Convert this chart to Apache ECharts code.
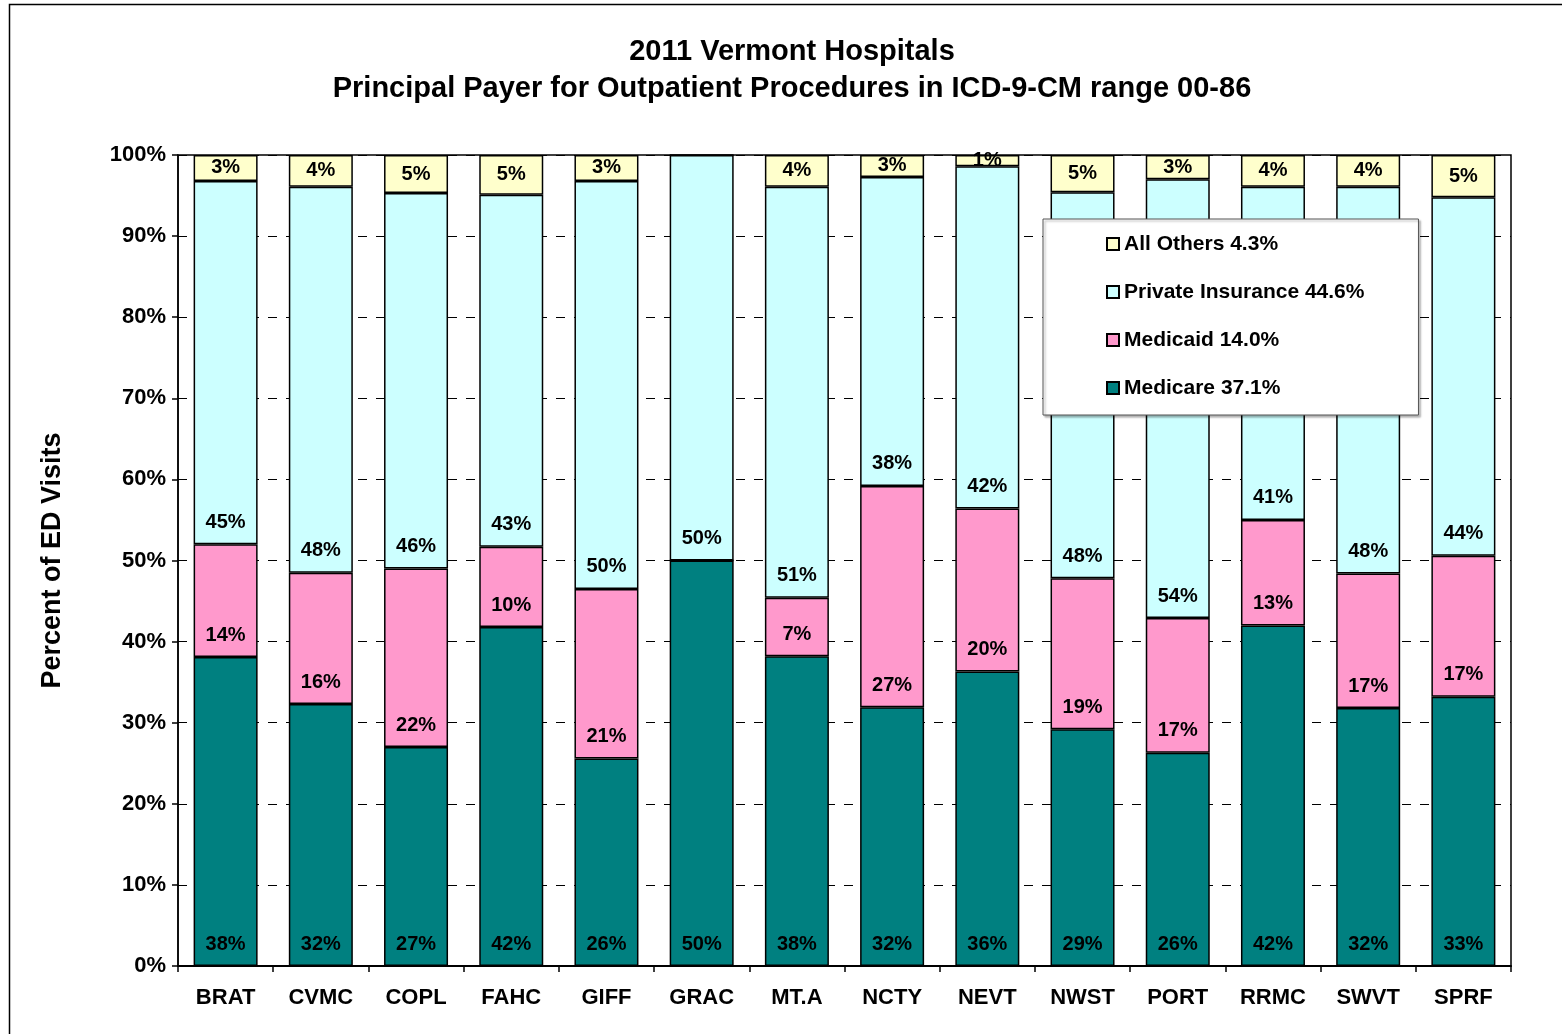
<!DOCTYPE html>
<html>
<head>
<meta charset="utf-8">
<script src="https://cdn.jsdelivr.net/npm/echarts@6/dist/echarts.min.js"></script>
<style>
  html, body { margin: 0; padding: 0; background: #fff; }
  #chart { width: 1562px; height: 1034px; }
</style>
</head>
<body>
<div id="chart"></div>
<script>
const hospitals = ['BRAT', 'CVMC', 'COPL', 'FAHC', 'GIFF', 'GRAC', 'MT.A', 'NCTY', 'NEVT', 'NWST', 'PORT', 'RRMC', 'SWVT', 'SPRF'];
const medicare = [38.1, 32.3, 27.0, 41.8, 25.6, 50.0, 38.2, 31.9, 36.3, 29.2, 26.3, 42.0, 31.8, 33.2];
const medicaid = [13.9, 16.2, 22.0, 9.9, 20.9, 0, 7.2, 27.3, 20.1, 18.6, 16.6, 13.0, 16.6, 17.4];
const privateIns = [44.8, 47.6, 46.3, 43.4, 50.3, 50.0, 50.7, 38.1, 42.2, 47.6, 54.1, 41.1, 47.7, 44.2];
const allOthers = [3.2, 3.9, 4.7, 4.9, 3.2, 0, 3.9, 2.7, 1.4, 4.6, 3.0, 3.9, 3.9, 5.2];
const seriesNames = ['Medicare 37.1%', 'Medicaid 14.0%', 'Private Insurance 44.6%', 'All Others 4.3%'];
const yTicks = [0, 10, 20, 30, 40, 50, 60, 70, 80, 90, 100];

const font = "'Liberation Sans', Arial, sans-serif";
const colors = ['#008080', '#FF99CC', '#CCFFFF', '#FFFFCC'];

const chart = echarts.init(document.getElementById('chart'));

function pctLabel(p) {
    return p.value < 0.5 ? '' : Math.round(p.value) + '%';
}

function makeSeries(name, data, color, pos) {
    return {
        name: name,
        type: 'bar',
        stack: 'total',
        data: data,
        barWidth: 64,
        itemStyle: { color: color, borderColor: '#000', borderWidth: 1.5 },
        label: {
            show: true,
            position: pos,
            distance: 12,
            formatter: pctLabel,
            color: '#000',
            fontFamily: font,
            fontWeight: 'bold',
            fontSize: 20
        },
        emphasis: { disabled: true }
    };
}

chart.setOption({
    animation: false,
    title: {
        text: '2011 Vermont Hospitals\nPrincipal Payer for Outpatient Procedures in ICD-9-CM range 00-86',
        left: 787,
        top: 28,
        textAlign: 'center',
        textStyle: { fontFamily: font, fontWeight: 'bold', fontSize: 29, lineHeight: 37, color: '#000' }
    },
    graphic: [{
        type: 'rect',
        shape: { x: 9.5, y: 4.5, width: 1700, height: 1200 },
        style: { fill: 'none', stroke: '#000', lineWidth: 1.5 },
        silent: true
    }],
    legend: {
        orient: 'vertical',
        left: 1043,
        top: 219,
        data: [seriesNames[3], seriesNames[2], seriesNames[1], seriesNames[0]],
        icon: 'rect',
        itemWidth: 12,
        itemHeight: 12,
        itemGap: 26,
        padding: [14, 54, 16, 63],
        backgroundColor: '#fff',
        borderColor: '#555',
        borderWidth: 1,
        shadowColor: 'rgba(0,0,0,0.3)',
        shadowOffsetX: 2,
        shadowOffsetY: 2,
        shadowBlur: 2,
        selectedMode: false,
        textStyle: { fontFamily: font, fontWeight: 'bold', fontSize: 21, lineHeight: 22, color: '#000' }
    },
    grid: {
        left: 178, right: 51, top: 155, bottom: 68,
        show: true, borderColor: '#000', borderWidth: 1.5
    },
    xAxis: {
        type: 'category',
        data: hospitals,
        axisLine: { lineStyle: { color: '#000', width: 2 } },
        axisTick: { show: true, length: 6, lineStyle: { color: '#000', width: 1.5 } },
        axisLabel: { margin: 21, color: '#000', fontFamily: font, fontWeight: 'bold', fontSize: 22 }
    },
    yAxis: {
        type: 'value',
        min: yTicks[0],
        max: yTicks[yTicks.length - 1],
        interval: 10,
        name: 'Percent of ED Visits',
        nameLocation: 'middle',
        nameGap: 112,
        nameTextStyle: { fontFamily: font, fontWeight: 'bold', fontSize: 27, color: '#000' },
        axisLine: { show: true, lineStyle: { color: '#000', width: 1.5 } },
        axisTick: { show: true, length: 6, lineStyle: { color: '#000', width: 1.5 } },
        axisLabel: { margin: 12, formatter: '{value}%', color: '#000', fontFamily: font, fontWeight: 'bold', fontSize: 22 },
        splitLine: { lineStyle: { color: '#000', type: [9, 9], width: 1 } }
    },
    series: [
        makeSeries(seriesNames[0], medicare, colors[0], 'insideBottom'),
        makeSeries(seriesNames[1], medicaid, colors[1], 'insideBottom'),
        makeSeries(seriesNames[2], privateIns, colors[2], 'insideBottom'),
        makeSeries(seriesNames[3], allOthers, colors[3], 'inside')
    ]
});

window.addEventListener('resize', () => chart.resize());
</script>
</body>
</html>
